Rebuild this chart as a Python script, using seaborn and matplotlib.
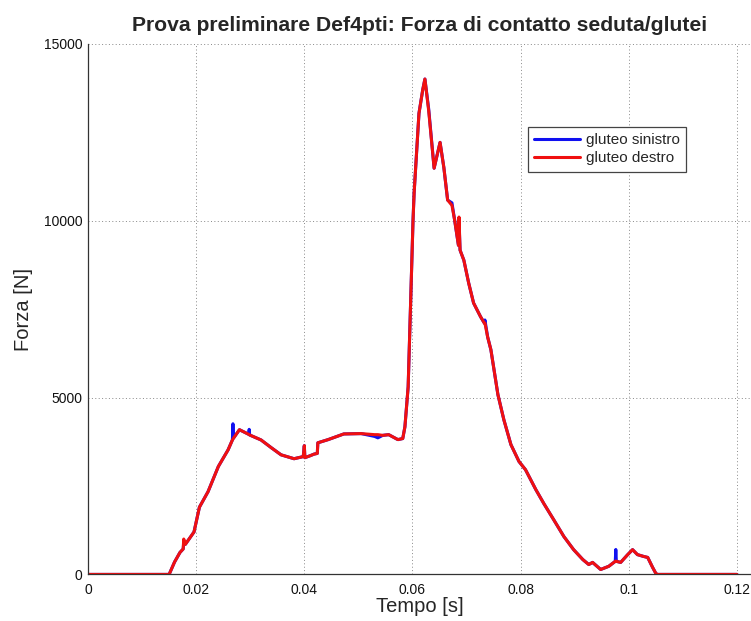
import matplotlib
matplotlib.use("Agg")
import matplotlib.pyplot as plt
import seaborn as sns
import pandas as pd

# Data
tempo = [0.0, 0.0150, 0.0160, 0.0170, 0.0176, 0.0177, 0.0180, 0.0196, 0.0206, 0.0222,
         0.0241, 0.0259, 0.0267, 0.0268, 0.0269, 0.0280, 0.0297, 0.0298, 0.0299, 0.0320,
         0.0339, 0.0357, 0.0381, 0.0398, 0.0400, 0.0401, 0.0410, 0.0418, 0.0424, 0.0425,
         0.0444, 0.0473, 0.0505, 0.0530, 0.0536, 0.0545, 0.0556, 0.0573, 0.0582, 0.0586,
         0.0592, 0.0601, 0.0603, 0.0612, 0.0619, 0.0623, 0.0630, 0.0640, 0.0651, 0.0658,
         0.0665, 0.0673, 0.0678, 0.0685, 0.0686, 0.0688, 0.0695, 0.0704, 0.0713, 0.0726,
         0.0733, 0.0734, 0.0739, 0.0745, 0.0758, 0.0769, 0.0782, 0.0797, 0.0809, 0.0828,
         0.0843, 0.0861, 0.0880, 0.0898, 0.0915, 0.0926, 0.0933, 0.0948, 0.0963, 0.0975,
         0.0976, 0.0977, 0.0985, 0.0998, 0.1007, 0.1016, 0.1027, 0.1035, 0.1044, 0.1050,
         0.1053, 0.1200]

gluteo_destro = [0, 0, 350, 620, 720, 1000, 850, 1200, 1900, 2340,
                 3050, 3520, 3800, 3820, 3850, 4090, 3960, 3950, 3940, 3800,
                 3580, 3380, 3270, 3330, 3640, 3300, 3350, 3400, 3420, 3720,
                 3810, 3970, 3980, 3950, 3950, 3930, 3950, 3810, 3840, 4170,
                 5300, 10000, 10770, 13030, 13700, 14000, 13100, 11480, 12210, 11500,
                 10580, 10430, 10010, 9300, 10100, 9165, 8880, 8230, 7670, 7280,
                 7100, 7100, 6710, 6350, 5080, 4370, 3670, 3190, 2960, 2400,
                 2000, 1550, 1070, 700, 420, 280, 340, 140, 230, 370,
                 380, 370, 340, 560, 700, 560, 510, 480, 200, 30,
                 0, 0]

gluteo_sinistro = [0, 0, 350, 620, 720, 900, 850, 1200, 1900, 2340,
                   3050, 3520, 3800, 4258, 3850, 4090, 3960, 4100, 3940, 3800,
                   3580, 3380, 3270, 3330, 3640, 3300, 3350, 3400, 3420, 3720,
                   3810, 3970, 3980, 3900, 3860, 3930, 3950, 3810, 3840, 4170,
                   5300, 10000, 10770, 13030, 13700, 14000, 13150, 11480, 12210, 11500,
                   10580, 10500, 10010, 9300, 10000, 9165, 8880, 8230, 7670, 7280,
                   7100, 7190, 6710, 6350, 5080, 4370, 3670, 3190, 2960, 2400,
                   2000, 1550, 1070, 700, 420, 280, 340, 140, 230, 370,
                   705, 370, 340, 560, 700, 560, 510, 480, 200, 30,
                   0, 0]

serie = ["gluteo sinistro", "gluteo destro"]
titolo = "Prova preliminare Def4pti: Forza di contatto seduta/glutei"
x_ticks = [0, 0.02, 0.04, 0.06, 0.08, 0.1, 0.12]
x_tick_labels = ["0", "0.02", "0.04", "0.06", "0.08", "0.1", "0.12"]
y_ticks = [0, 5000, 10000, 15000]
y_tick_labels = ["0", "5000", "10000", "15000"]

sns.set_style("white")
plt.rcParams["font.family"] = ["Liberation Sans", "DejaVu Sans"]

df = pd.DataFrame({
    "t": tempo * 2,
    "F": gluteo_sinistro + gluteo_destro,
    "serie": [serie[0]] * len(tempo) + [serie[1]] * len(tempo),
})

fig = plt.figure(figsize=(7.51, 6.21), dpi=100)
ax = fig.add_axes([0.1172, 0.0750, 0.8828, 0.8547])

sns.lineplot(data=df, x="t", y="F", hue="serie", palette={serie[0]: "#1010f0", serie[1]: "#f01010"},
             estimator=None, sort=False, linewidth=2.2, ax=ax, legend=True)

ax.set_xlim(0, 0.1226)
ax.set_ylim(0, 15000)
ax.set_xticks(x_ticks)
ax.set_xticklabels(x_tick_labels)
ax.set_yticks(y_ticks)
ax.set_yticklabels(y_tick_labels)
ax.tick_params(axis="both", direction="in", length=4, width=0.8, labelsize=10, colors="#111111")
ax.tick_params(axis="x", pad=6)
ax.tick_params(axis="y", pad=4)

ax.grid(True, linestyle=(0, (1, 2.5)), color="#888888", linewidth=0.7)
for s in ["top", "right"]:
    ax.spines[s].set_visible(False)
for s in ["left", "bottom"]:
    ax.spines[s].set_color("#333333")
    ax.spines[s].set_linewidth(0.9)

ax.set_xlabel("Tempo [s]", fontsize=14.5, labelpad=0)
ax.set_ylabel("Forza [N]", fontsize=14.5, labelpad=8)
ax.set_title(titolo, fontsize=15.2, fontweight="bold", pad=9)

leg = ax.legend(loc="upper left", bbox_to_anchor=(0.6637, 0.8434), fontsize=11, frameon=True,
                fancybox=False, framealpha=1, edgecolor="#444444", handlelength=3.0,
                borderpad=0.4, labelspacing=0.3, handletextpad=0.4, borderaxespad=0)
leg.get_frame().set_linewidth(0.9)

fig.savefig("out.png", dpi=100)
